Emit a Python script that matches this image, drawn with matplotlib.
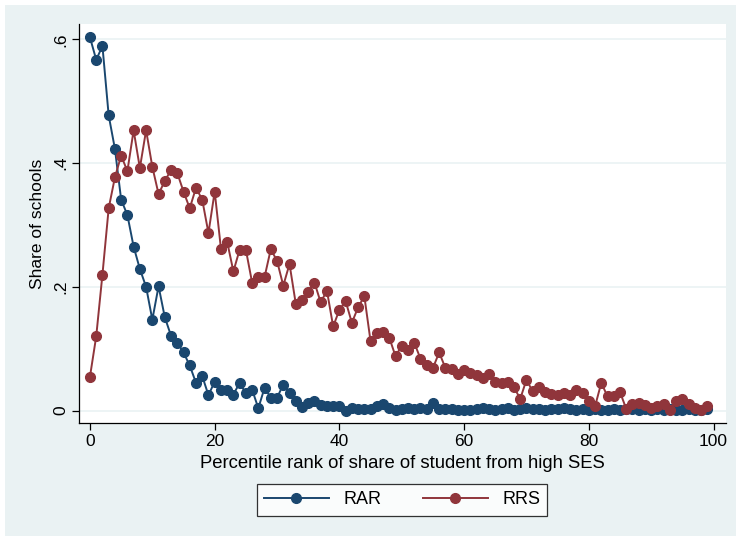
import numpy as np
import matplotlib.pyplot as plt
from matplotlib.patches import Rectangle

plt.rcParams['font.family'] = ['Liberation Sans', 'DejaVu Sans']

# percentile rank 0..99
pct = np.arange(100)

# share of schools, RAR
rar = [0.603, 0.567, 0.589, 0.477, 0.423, 0.341, 0.316, 0.265, 0.229, 0.200,
       0.147, 0.201, 0.151, 0.121, 0.110, 0.094, 0.073, 0.045, 0.056, 0.025,
       0.047, 0.034, 0.034, 0.026, 0.045, 0.028, 0.034, 0.004, 0.037, 0.021,
       0.021, 0.042, 0.028, 0.016, 0.006, 0.013, 0.016, 0.009, 0.007, 0.007,
       0.007, 0.000, 0.004, 0.002, 0.002, 0.003, 0.008, 0.011, 0.005, 0.001,
       0.003, 0.005, 0.002, 0.004, 0.003, 0.012, 0.002, 0.003, 0.002, 0.001,
       0.001, 0.001, 0.002, 0.004, 0.003, 0.001, 0.002, 0.004, 0.001, 0.002,
       0.004, 0.002, 0.003, 0.001, 0.003, 0.002, 0.005, 0.002, 0.001, 0.003,
       0.001, 0.002, 0.001, 0.001, 0.002, 0.001, 0.002, 0.003, 0.001, 0.002,
       0.001, 0.002, 0.001, 0.002, 0.001, 0.001, 0.002, 0.001, 0.001, 0.002]

# share of schools, RRS
rrs = [0.055, 0.120, 0.220, 0.327, 0.377, 0.412, 0.387, 0.453, 0.392, 0.453,
       0.394, 0.350, 0.371, 0.389, 0.384, 0.354, 0.327, 0.360, 0.341, 0.287,
       0.354, 0.262, 0.273, 0.225, 0.260, 0.260, 0.207, 0.216, 0.216, 0.261,
       0.242, 0.202, 0.237, 0.173, 0.179, 0.192, 0.207, 0.175, 0.194, 0.136,
       0.163, 0.177, 0.142, 0.167, 0.185, 0.112, 0.125, 0.127, 0.118, 0.088,
       0.105, 0.098, 0.110, 0.084, 0.074, 0.069, 0.094, 0.069, 0.067, 0.060,
       0.065, 0.061, 0.058, 0.053, 0.059, 0.047, 0.045, 0.047, 0.038, 0.019,
       0.050, 0.031, 0.039, 0.030, 0.027, 0.025, 0.029, 0.026, 0.033, 0.029,
       0.016, 0.007, 0.045, 0.023, 0.023, 0.030, 0.003, 0.010, 0.013, 0.009,
       0.004, 0.008, 0.011, 0.001, 0.016, 0.019, 0.011, 0.005, 0.001, 0.008]

yticks = [0, 0.2, 0.4, 0.6]
ytick_labels = ['0', '.2', '.4', '.6']
xticks = [0, 20, 40, 60, 80, 100]

navy = '#1a476f'
maroon = '#90353b'
bg = '#eaf2f3'

W, H = 741, 541
fig = plt.figure(figsize=(W / 100, H / 100), dpi=100, facecolor='white')
fig.patches.append(Rectangle((5 / W, 5 / H), 731 / W, 531 / H,
                             transform=fig.transFigure, facecolor=bg,
                             edgecolor='none', zorder=-10))

ax = fig.add_axes([79 / W, (H - 423) / H, 647 / W, 399 / H])
ax.set_facecolor('white')

ax.plot(pct, rar, '-o', color=navy, lw=1.4, ms=7, label='RAR', zorder=3)
ax.plot(pct, rrs, '-o', color=maroon, lw=1.4, ms=7, label='RRS', zorder=3)

ax.set_xlim(-1.76, 102)
ax.set_ylim(-0.0199, 0.6247)
ax.set_xticks(xticks)
ax.set_yticks(yticks)
ax.set_yticklabels(ytick_labels, rotation=90, va='center')
ax.grid(axis='y', color=bg, lw=1.2, zorder=0)
ax.set_axisbelow(True)

for s in ['top', 'right']:
    ax.spines[s].set_visible(False)
for s in ['left', 'bottom']:
    ax.spines[s].set_color('black')
    ax.spines[s].set_linewidth(0.9)
ax.tick_params(direction='out', length=5, width=0.9, labelsize=12.5, pad=3)

ax.set_xlabel('Percentile rank of share of student from high SES', fontsize=13.3, labelpad=4)
ax.set_ylabel('Share of schools', fontsize=12.5, labelpad=6)

leg = fig.legend(loc='center', bbox_to_anchor=(402 / W, 1 - 500 / H), ncol=2,
                 fontsize=13, frameon=True, fancybox=False, handlelength=3.6,
                 columnspacing=2.3, borderpad=0.4)
leg.get_frame().set_edgecolor('black')
leg.get_frame().set_linewidth(0.9)

fig.savefig('out.png', dpi=100, facecolor='white')
